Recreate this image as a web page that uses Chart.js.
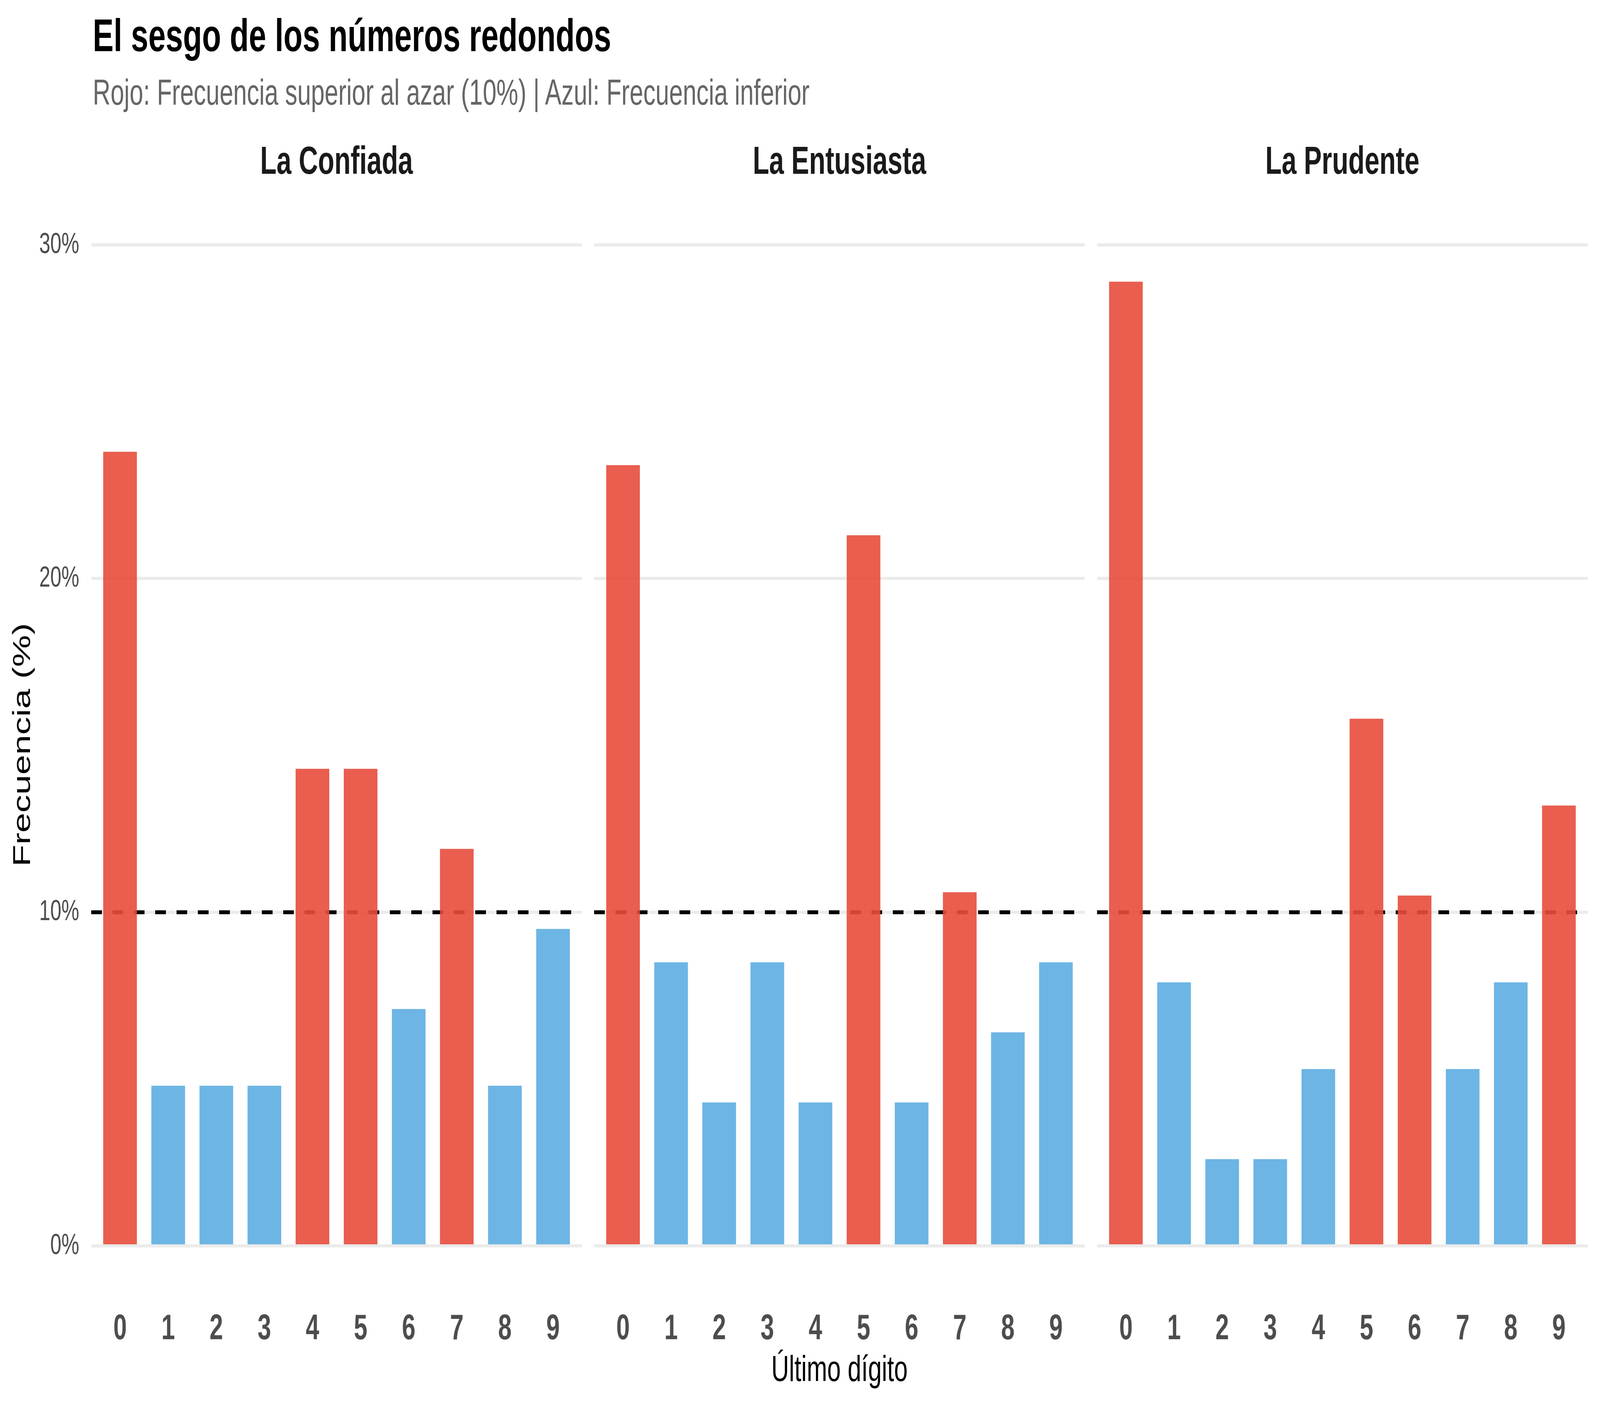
<!DOCTYPE html>
<html lang="es">
<head>
<meta charset="utf-8">
<title>El sesgo de los números redondos</title>
<script src="https://cdn.jsdelivr.net/npm/chart.js@4.4.1/dist/chart.umd.min.js"></script>
<style>
  html, body { margin: 0; padding: 0; background: #fff; overflow: hidden; }
  #page { position: absolute; left: 0; top: 0; width: 6000px; height: 3600px; background: #fff;
          transform-origin: 0 0; font-family: "Liberation Sans", Arial, sans-serif; }
  .txt { position: absolute; white-space: nowrap; line-height: 1; }
  #title { left: 348px; top: 32px; font-size: 117px; font-weight: bold; color: #000; }
  #subtitle { left: 348px; top: 190px; font-size: 92px; color: #666; }
  #xtitle { left: 3148px; top: 3458px; font-size: 92px; color: #000; transform: translateX(-50%); }
  #ytitle { left: 80px; top: 1907px; font-size: 92px; color: #000; transform: translate(-50%, -50%) rotate(-90deg); }
  canvas { position: absolute; top: 0; }
</style>
</head>
<body>
<div id="page">
  <div id="title" class="txt">El sesgo de los números redondos</div>
  <div id="subtitle" class="txt">Rojo: Frecuencia superior al azar (10%) | Azul: Frecuencia inferior</div>
  <canvas id="p1" width="2182" height="3600" style="left:0px;width:2182px;height:3600px"></canvas>
  <canvas id="p2" width="1840" height="3600" style="left:2228px;width:1840px;height:3600px"></canvas>
  <canvas id="p3" width="1840" height="3600" style="left:4114px;width:1840px;height:3600px"></canvas>
  <div id="xtitle" class="txt">Último dígito</div>
  <div id="ytitle" class="txt">Frecuencia (%)</div>
</div>
<script>
function qs(id) { return document.getElementById(id); }

// último dígito de cada número y su frecuencia (%) por persona
const digits = [0, 1, 2, 3, 4, 5, 6, 7, 8, 9];
const freqConfiada   = [23.8, 4.8, 4.8, 4.8, 14.3, 14.3, 7.1, 11.9, 4.8, 9.5];
const freqEntusiasta = [23.4, 8.5, 4.3, 8.5, 4.3, 21.3, 4.3, 10.6, 6.4, 8.5];
const freqPrudente   = [28.9, 7.9, 2.6, 2.6, 5.3, 15.8, 10.5, 5.3, 7.9, 13.2];
const azar = 10;               // frecuencia esperada al azar
const yTicks = [0, 10, 20, 30];
const xLimits = [-0.6, 9.6];
const yLimits = [-1.45, 30.4];

const RED = "rgba(231, 76, 60, 0.9)";
const BLUE = "rgba(93, 173, 226, 0.9)";

// layout is done at 6000x3600; the real window may be clamped, so stretch to fill it
const sx = window.innerWidth / 6000;
const sy = window.innerHeight / 3600;
qs("page").style.transform = `scale(${sx}, ${sy})`;

Chart.defaults.font.family = '"Liberation Sans", Arial, sans-serif';

function makePanel(canvasId, name, values, yAxisWidth) {
  return new Chart(qs(canvasId), {
    type: "bar",
    data: {
      datasets: [{
        type: "bar",
        data: digits.map((d, i) => ({ x: d, y: values[i] })),
        backgroundColor: values.map(v => (v > azar ? RED : BLUE)),
        barPercentage: 0.7,
        categoryPercentage: 1,
        borderWidth: 0,
        order: 1,
      }, {
        type: "line",
        data: xLimits.map(x => ({ x, y: azar })),
        borderColor: "#000",
        borderWidth: 10,
        borderDash: [40, 40],
        borderCapStyle: "butt",
        pointRadius: 0,
        fill: false,
        order: 2,
      }],
    },
    options: {
      responsive: false,
      devicePixelRatio: 1,
      animation: false,
      layout: { padding: { top: 0, right: 0, bottom: 86, left: 0 } },
      plugins: {
        legend: { display: false },
        tooltip: { enabled: false },
        title: {
          display: true,
          text: name,
          fullSize: false,
          color: "#1a1a1a",
          font: { size: 100, weight: "bold" },
          padding: { top: 357, bottom: 116 },
        },
      },
      scales: {
        x: {
          type: "linear",
          min: xLimits[0],
          max: xLimits[1],
          offset: false,
          grid: { display: false, offset: false },
          border: { display: false },
          afterBuildTicks: (s) => { s.ticks = digits.map(d => ({ value: d })); },
          afterFit: (s) => { s.height = 200; },
          ticks: {
            color: "#4d4d4d",
            font: { size: 91, weight: "bold" },
            padding: 27,
            maxRotation: 0,
            autoSkip: false,
          },
        },
        y: {
          type: "linear",
          min: yLimits[0],
          max: yLimits[1],
          grid: { color: "#ebebeb", lineWidth: 8, drawTicks: false },
          border: { display: false },
          afterBuildTicks: (s) => { s.ticks = yTicks.map(v => ({ value: v })); },
          afterFit: (s) => { s.width = yAxisWidth; },
          ticks: {
            display: yAxisWidth > 0,
            color: "#4d4d4d",
            font: { size: 75 },
            padding: 45,
            callback: (v) => `${v}%`,
          },
        },
      },
    },
  });
}

makePanel("p1", "La Confiada", freqConfiada, 342);
makePanel("p2", "La Entusiasta", freqEntusiasta, 0);
makePanel("p3", "La Prudente", freqPrudente, 0);
</script>
</body>
</html>
